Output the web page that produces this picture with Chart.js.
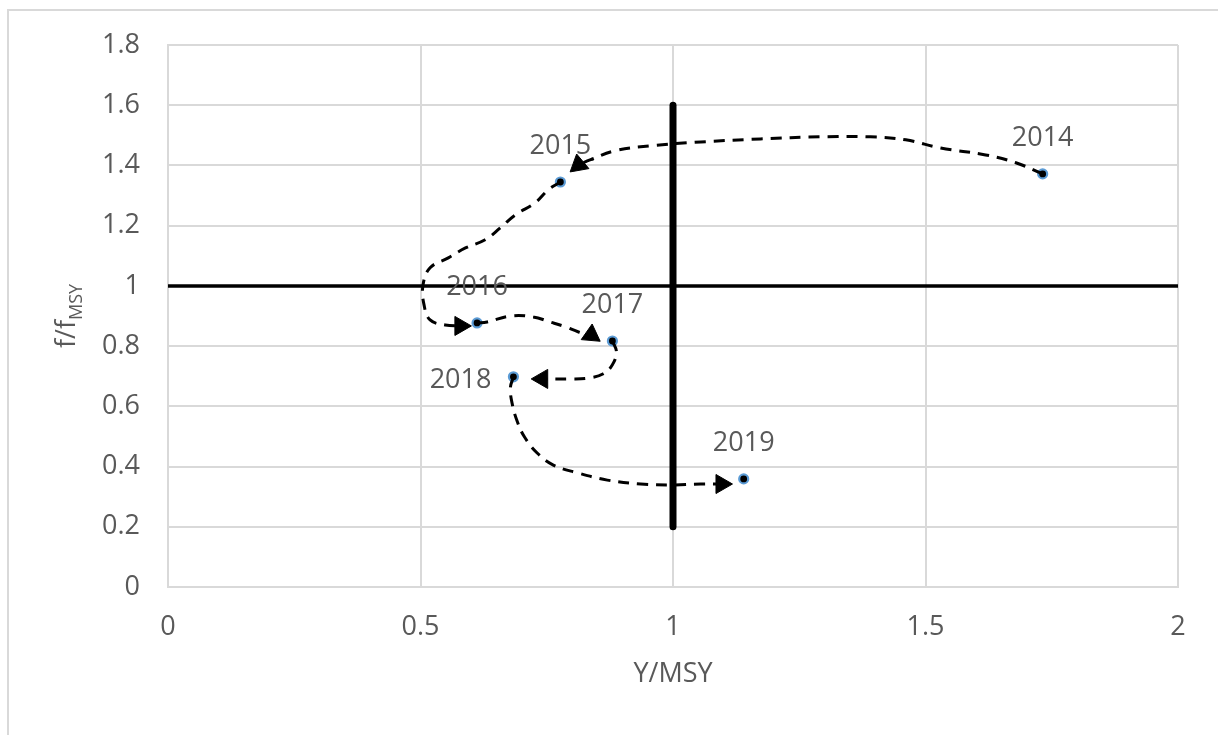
<!DOCTYPE html>
<html>
<head>
<meta charset="utf-8">
<script src="https://cdn.jsdelivr.net/npm/chart.js@4"></script>
<style>
    html, body { margin: 0; padding: 0; background: #fff; overflow: hidden; }
    #wrap { position: relative; width: 1218px; height: 735px; }
</style>
</head>
<body>
<div id="wrap"><canvas id="myChart" width="1218" height="735"></canvas></div>
<script>
const years = ['2014', '2015', '2016', '2017', '2018', '2019']
const yieldRatio = [1.732, 0.777, 0.612, 0.880, 0.684, 1.140]
const effortRatio = [1.372, 1.345, 0.877, 0.817, 0.698, 0.359]
const labelSide = ['above', 'above', 'above', 'above', 'left', 'above']

const xTicks = [0, 0.5, 1, 1.5, 2]
const yTicks = [0, 0.2, 0.4, 0.6, 0.8, 1, 1.2, 1.4, 1.6, 1.8]

// trajectory between consecutive years, [Y/MSY, f/fMSY]
const path2014 = [[1.732, 1.372], [1.679, 1.409], [1.619, 1.435], [1.530, 1.458], [1.461, 1.485],
    [1.391, 1.495], [1.292, 1.495], [1.173, 1.488], [1.055, 1.478], [0.955, 1.465],
    [0.886, 1.449], [0.837, 1.419], [0.813, 1.402]]
const path2015 = [[0.777, 1.345], [0.753, 1.319], [0.727, 1.276], [0.688, 1.236], [0.658, 1.193],
    [0.628, 1.153], [0.589, 1.126], [0.555, 1.093], [0.519, 1.060], [0.505, 1.003],
    [0.507, 0.937], [0.519, 0.887], [0.549, 0.870], [0.579, 0.867]]
const path2016 = [[0.612, 0.877], [0.632, 0.880], [0.678, 0.900], [0.723, 0.897], [0.757, 0.880],
    [0.787, 0.864], [0.813, 0.847], [0.838, 0.837]]
const path2017 = [[0.880, 0.817], [0.888, 0.781], [0.880, 0.738], [0.862, 0.708], [0.833, 0.694],
    [0.797, 0.691], [0.741, 0.691]]
const path2018 = [[0.684, 0.698], [0.678, 0.661], [0.682, 0.605], [0.692, 0.548], [0.706, 0.498],
    [0.731, 0.445], [0.763, 0.405], [0.811, 0.379], [0.870, 0.355], [0.936, 0.342],
    [1.001, 0.339], [1.055, 0.342], [1.096, 0.342]]

// arrow heads at the end of each trajectory piece
const arrowX = [0.813, 0.579, 0.838, 0.741, 1.096]
const arrowY = [1.402, 0.867, 0.837, 0.691, 0.342]
const arrowAngle = [-10, 90, 125, -90, 90]

// reference lines
const msyLine = [[0, 1], [2, 1]]
const yieldLine = [[1, 0.2], [1, 1.6]]

const FONT = "'Open Sans', 'Noto Sans', sans-serif"
const TEXT = '#595959'
const GRID = '#d9d9d9'

function toPoints(pairs){
    return pairs.map(p => ({x: p[0], y: p[1]}))
}

function pathDataset(pairs){
    return {
        data: toPoints(pairs),
        showLine: true,
        borderColor: '#000',
        borderWidth: 3,
        borderDash: [11, 8],
        tension: 0.4,
        pointRadius: 0,
        fill: false
    }
}

const textPlugin = {
    id: 'texts',
    beforeDraw(chart){
        const ctx = chart.ctx
        ctx.save()
        ctx.strokeStyle = GRID
        ctx.lineWidth = 2
        ctx.strokeRect(8, 10, 1400, 900)
        ctx.restore()
    },
    afterDraw(chart){
        const ctx = chart.ctx
        const xs = chart.scales.x
        const ys = chart.scales.y
        ctx.save()
        ctx.fillStyle = TEXT
        ctx.font = '27px ' + FONT

        // year labels
        years.forEach((yr, i) => {
            const px = xs.getPixelForValue(yieldRatio[i])
            const py = ys.getPixelForValue(effortRatio[i])
            if(labelSide[i] === 'left'){
                ctx.textAlign = 'right'
                ctx.textBaseline = 'middle'
                ctx.fillText(yr, px - 22, py + 3)
            } else {
                ctx.textAlign = 'center'
                ctx.textBaseline = 'middle'
                ctx.fillText(yr, px, py - 36)
            }
        })

        // x title
        const area = chart.chartArea
        ctx.textAlign = 'center'
        ctx.textBaseline = 'middle'
        ctx.fillText('Y/MSY', (area.left + area.right) / 2, 674)

        // y title with subscript
        ctx.translate(66, (area.top + area.bottom) / 2)
        ctx.rotate(-Math.PI / 2)
        const main = 'f/f'
        const sub = 'MSY'
        ctx.font = '27px ' + FONT
        const wMain = ctx.measureText(main).width
        ctx.font = '18px ' + FONT
        const wSub = ctx.measureText(sub).width
        const start = -(wMain + wSub) / 2
        ctx.textAlign = 'left'
        ctx.textBaseline = 'alphabetic'
        ctx.font = '27px ' + FONT
        ctx.fillText(main, start, 9)
        ctx.font = '18px ' + FONT
        ctx.fillText(sub, start + wMain, 16)
        ctx.restore()
    }
}

const data = {
    datasets: [
        {
            data: toPoints(msyLine),
            showLine: true,
            borderColor: '#000',
            borderWidth: 3.5,
            pointRadius: 0
        },
        {
            data: toPoints(yieldLine),
            showLine: true,
            borderColor: '#000',
            borderWidth: 7,
            borderCapStyle: 'round',
            pointRadius: 0
        },
        pathDataset(path2014),
        pathDataset(path2015),
        pathDataset(path2016),
        pathDataset(path2017),
        pathDataset(path2018),
        {
            data: arrowX.map((x, i) => ({x: x, y: arrowY[i]})),
            pointStyle: 'triangle',
            pointRotation: arrowAngle,
            pointRadius: 11,
            backgroundColor: '#000',
            borderColor: '#000',
            borderWidth: 1
        },
        {
            data: yieldRatio.map((x, i) => ({x: x, y: effortRatio[i]})),
            pointStyle: 'circle',
            pointRadius: 4.5,
            backgroundColor: '#000',
            borderColor: '#5b9bd5',
            borderWidth: 2.2
        }
    ]
}

const config = {
    type: 'scatter',
    data: data,
    options: {
        responsive: false,
        animation: false,
        layout: { padding: { top: 45, right: 40, left: 0, bottom: 0 } },
        plugins: {
            legend: { display: false },
            tooltip: { enabled: false }
        },
        scales: {
            x: {
                type: 'linear',
                min: 0,
                max: 2,
                afterBuildTicks: scale => { scale.ticks = xTicks.map(v => ({value: v})) },
                afterFit: scale => { scale.height = 148 },
                ticks: {
                    color: TEXT,
                    font: { family: FONT, size: 27 },
                    padding: 24,
                    maxRotation: 0,
                    callback: v => String(v)
                },
                grid: { color: GRID, lineWidth: 2, drawTicks: false },
                border: { color: GRID, width: 2 }
            },
            y: {
                type: 'linear',
                min: 0,
                max: 1.8,
                afterBuildTicks: scale => { scale.ticks = yTicks.map(v => ({value: v})) },
                afterFit: scale => { scale.width = 168 },
                ticks: {
                    color: TEXT,
                    font: { family: FONT, size: 27 },
                    padding: 28,
                    callback: v => String(v)
                },
                grid: { color: GRID, lineWidth: 2, drawTicks: false },
                border: { color: GRID, width: 2 }
            }
        }
    },
    plugins: [textPlugin]
}

const myChart = new Chart(document.getElementById('myChart'), config)
</script>
</body>
</html>
